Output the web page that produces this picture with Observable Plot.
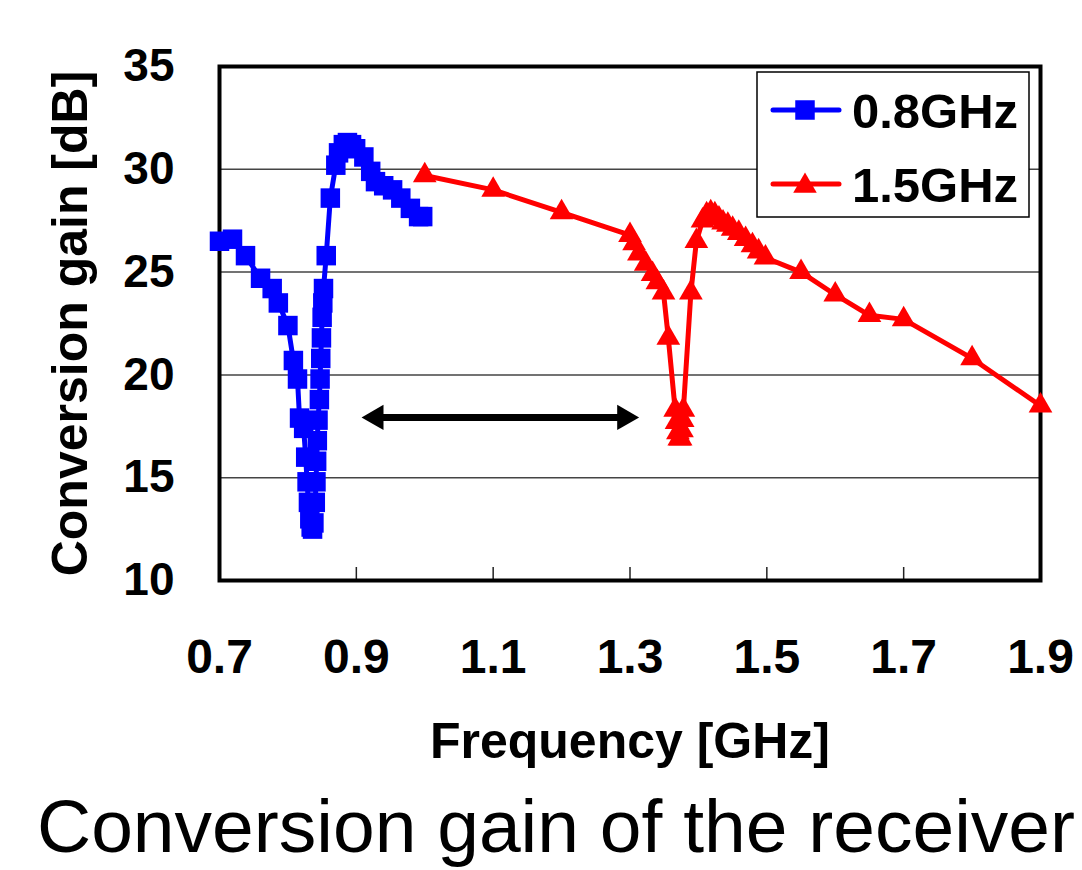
<!DOCTYPE html>
<html>
<head>
<meta charset="utf-8">
<script src="https://cdn.jsdelivr.net/npm/d3@7"></script>
<script src="https://cdn.jsdelivr.net/npm/@observablehq/plot@0.6"></script>
<style>
  body { margin: 0; background: white; }
  #wrap { position: relative; width: 1082px; height: 870px; overflow: hidden; background: white; }
  #legend { position: absolute; left: 0; top: 0; pointer-events: none; }
  #caption { position: absolute; left: 0; top: 775px; }
</style>
</head>
<body>
<div id="wrap">
  <div id="chart"></div>
  <svg id="legend" width="1082" height="775"></svg>
  <svg id="caption" width="1082" height="95"></svg>
</div>
<script>
// ---- data ----
const seriesNames = ["0.8GHz", "1.5GHz"];
const seriesColors = ["#0000ff", "#ff0000"];

const blueFreq = [0.700, 0.719, 0.738, 0.760, 0.777, 0.786, 0.800, 0.808, 0.814, 0.817, 0.823, 0.826, 0.828, 0.830, 0.832, 0.834, 0.836,
  0.838, 0.840, 0.841, 0.842, 0.843, 0.844, 0.846, 0.847, 0.848, 0.849, 0.850, 0.851, 0.852, 0.856, 0.862, 0.870, 0.874, 0.881, 0.887,
  0.893, 0.899, 0.911, 0.921, 0.928, 0.940, 0.953, 0.965, 0.979, 0.991, 0.997];
const blueGain = [26.5, 26.6, 25.8, 24.7, 24.2, 23.5, 22.4, 20.7, 19.8, 17.9, 17.4, 16.0, 14.8, 13.8, 13.0, 12.6, 12.5,
  12.8, 13.8, 14.8, 15.8, 16.8, 17.8, 18.8, 19.8, 20.8, 21.8, 22.8, 23.5, 24.2, 25.8, 28.6, 30.2, 30.8, 31.2, 31.3,
  31.2, 31.0, 30.6, 29.9, 29.4, 29.2, 29.0, 28.6, 28.1, 27.7, 27.7];

const redFreq = [1.000, 1.100, 1.200, 1.300, 1.306, 1.313, 1.323, 1.333, 1.340, 1.349, 1.356, 1.366, 1.368, 1.370, 1.372, 1.374, 1.376,
  1.377, 1.378, 1.389, 1.397, 1.406, 1.412, 1.418, 1.424, 1.430, 1.436, 1.443, 1.450, 1.459, 1.469, 1.479, 1.488, 1.498,
  1.550, 1.600, 1.650, 1.700, 1.800, 1.900];
const redGain = [29.7, 29.0, 27.9, 26.8, 26.4, 25.9, 25.4, 24.9, 24.5, 24.0, 21.8, 18.3, 17.7, 17.2, 16.9, 16.9, 17.3,
  17.8, 18.3, 24.0, 26.5, 27.5, 27.8, 27.9, 27.8, 27.6, 27.4, 27.3, 27.1, 26.9, 26.6, 26.3, 26.0, 25.7,
  25.0, 23.9, 22.9, 22.7, 20.8, 18.5];

const xTicks = [0.7, 0.9, 1.1, 1.3, 1.5, 1.7, 1.9];
const yTicks = [10, 15, 20, 25, 30, 35];
const gridValues = [15, 20, 25, 30];

// double-headed annotation arrow (span between the two bands)
const arrowGain = 17.93;
const arrowLine = [{x1: 0.929, x2: 1.292, y: arrowGain}];
const arrowHeads = [{x: 0.929, y: arrowGain, rot: -90}, {x: 1.292, y: arrowGain, rot: 90}];

const xLabel = "Frequency [GHz]";
const yLabel = "Conversion gain [dB]";
const captionText = "Conversion gain of the receiver";

const blue = blueFreq.map((f, i) => ({f, g: blueGain[i]}));
const red = redFreq.map((f, i) => ({f, g: redGain[i]}));

const font = "'Liberation Sans', Arial, Helvetica, sans-serif";

const chart = Plot.plot({
  width: 1082,
  height: 775,
  marginLeft: 219,
  marginRight: 42,
  marginTop: 66,
  marginBottom: 195,
  style: {fontFamily: font, color: "black", background: "white", overflow: "visible"},
  x: {domain: [0.7, 1.9]},
  y: {domain: [10, 35]},
  marks: [
    Plot.gridY(gridValues, {stroke: "#444", strokeOpacity: 1, strokeWidth: 1.5}),
    Plot.ruleX(xTicks.slice(1, -1), {stroke: "#222", strokeWidth: 1.5, insetTop: 501}),
    Plot.axisY({ticks: yTicks, tickSize: 0, tickPadding: 45, fontSize: 46, fontWeight: "bold", label: null}),
    Plot.axisX({ticks: xTicks, tickSize: 0, tickPadding: 58, fontSize: 48, fontWeight: "bold", label: null, tickFormat: d => d.toFixed(1)}),
    Plot.text([yLabel], {frameAnchor: "left", dx: -149, rotate: -90, fontSize: 50, fontWeight: "bold", textAnchor: "middle"}),
    Plot.text([xLabel], {frameAnchor: "bottom", dy: 177, fontSize: 50, fontWeight: "bold", textAnchor: "middle"}),
    Plot.link(arrowLine, {x1: "x1", x2: "x2", y1: "y", y2: "y", stroke: "black", strokeWidth: 7}),
    Plot.dot(arrowHeads, {x: "x", y: "y", rotate: "rot", symbol: "triangle", r: 9.4, fill: "black", stroke: "none"}),
    Plot.frame({stroke: "black", strokeWidth: 4}),
    Plot.line(blue, {x: "f", y: "g", stroke: seriesColors[0], strokeWidth: 5}),
    Plot.dot(blue, {x: "f", y: "g", symbol: "square", r: 11, fill: seriesColors[0], stroke: "none"}),
    Plot.line(red, {x: "f", y: "g", stroke: seriesColors[1], strokeWidth: 5}),
    Plot.dot(red, {x: "f", y: "g", symbol: "triangle", r: 8.8, fill: seriesColors[1], stroke: "none"})
  ]
});
document.getElementById("chart").appendChild(chart);

// legend (drawn in an overlay, inside the plot frame, top-right)
const lg = d3.select("#legend");
lg.append("rect").attr("x", 757).attr("y", 72).attr("width", 272).attr("height", 145)
  .attr("fill", "white").attr("stroke", "black").attr("stroke-width", 1.5);
const rowsY = [110, 184];
const sym = [d3.symbol(d3.symbolSquare, 380), d3.symbol(d3.symbolTriangle, 240)];
seriesNames.forEach((name, i) => {
  const y = rowsY[i];
  lg.append("line").attr("x1", 773).attr("x2", 839).attr("y1", y).attr("y2", y)
    .attr("stroke", seriesColors[i]).attr("stroke-width", 5).attr("stroke-linecap", "round");
  lg.append("path").attr("d", sym[i]()).attr("transform", `translate(805,${y + (i === 1 ? 2 : 0)})`).attr("fill", seriesColors[i]);
  lg.append("text").attr("x", 852).attr("y", y + 18).attr("font-family", font).attr("font-size", 49)
    .attr("font-weight", "bold").attr("fill", "black").text(name);
});

// caption below the chart (raised slightly so its descenders stay inside the picture)
d3.select("#caption").append("text")
  .attr("x", 37).attr("y", 77)
  .attr("font-family", font).attr("font-size", 75).attr("fill", "black")
  .attr("textLength", 1038).attr("lengthAdjust", "spacingAndGlyphs")
  .text(captionText);
</script>
</body>
</html>
